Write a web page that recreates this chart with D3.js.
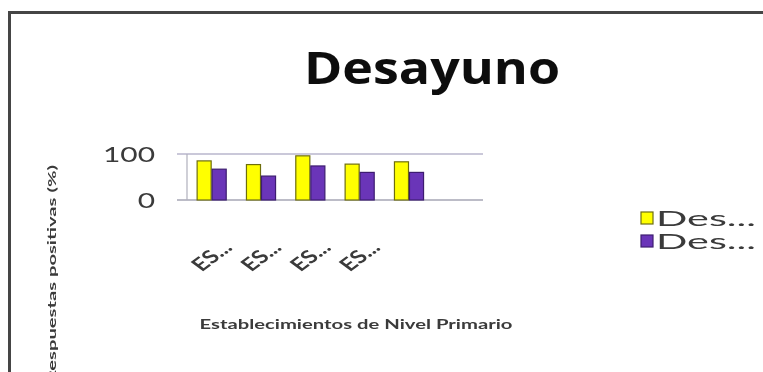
<!DOCTYPE html>
<html>
<head>
<meta charset="utf-8">
<script src="https://cdn.jsdelivr.net/npm/d3@7/dist/d3.min.js"></script>
<style>
  html, body { margin: 0; padding: 0; background: #fff; }
  svg { display: block; }
</style>
</head>
<body>
<svg id="chart" width="763" height="372"></svg>
<script>
// Chart data
const categories = ["c1", "c2", "c3", "c4", "c5", "c6"];
const tickLabels = ["ES...", "ES...", "ES...", "ES...", "", ""];
const seriesNames = ["Des...", "Des..."];
const serieA = [85, 77, 96, 78, 83, null];
const serieB = [67, 52, 74, 60, 60, null];
const yTicks = [0, 100];

const colors = ["#ffff00", "#6b34b8"];
const strokes = ["#6e6e10", "#3e1f70"];
const series = [serieA, serieB];

const svg = d3.select("#chart");
const W = 763, H = 372;

// soft rendering
const defs = svg.append("defs");
defs.append("filter").attr("id", "soft")
  .append("feGaussianBlur").attr("stdDeviation", 0.6);

const root = svg.append("g").attr("filter", "url(#soft)");
root.append("rect").attr("width", W).attr("height", H).attr("fill", "#fff");

// frame of the chart area
root.append("rect")
  .attr("x", 9.5).attr("y", 12.5)
  .attr("width", 820).attr("height", 420)
  .attr("fill", "none").attr("stroke", "#444").attr("stroke-width", 3);

const SX = 1.36; // horizontal text stretch
const FONT = "Lato, 'Open Sans', sans-serif";

// Scales
const x = d3.scaleBand().domain(categories).range([187, 483])
  .paddingInner(0.39).paddingOuter(0.195);
const xs = d3.scaleBand().domain([0, 1]).range([0, x.bandwidth()]);
const y = d3.scaleLinear().domain([0, 100]).range([200, 154]);

// gridlines (with outside tick marks)
root.append("g").selectAll("line").data(yTicks).join("line")
  .attr("x1", 177).attr("x2", 483)
  .attr("y1", d => y(d)).attr("y2", d => y(d))
  .attr("stroke", d => d === 0 ? "#a6a6b4" : "#b8b6cc").attr("stroke-width", 1.3);

// vertical axis line
root.append("line")
  .attr("x1", 187).attr("x2", 187)
  .attr("y1", y(100)).attr("y2", y(0))
  .attr("stroke", "#b0b0bc").attr("stroke-width", 1.2);

// Bars
series.forEach((vals, si) => {
  root.append("g").selectAll("rect")
    .data(categories.map((c, i) => ({ c, v: vals[i] })).filter(d => d.v != null))
    .join("rect")
    .attr("x", d => x(d.c) + xs(si) + 0.5)
    .attr("y", d => y(d.v))
    .attr("width", xs.bandwidth() - 1)
    .attr("height", d => y(0) - y(d.v))
    .attr("fill", colors[si])
    .attr("stroke", strokes[si]).attr("stroke-width", 1.2);
});

// y tick labels
root.append("g").selectAll("text").data(yTicks).join("text")
  .attr("transform", d => `translate(155,${y(d) + 8}) scale(${SX},1)`)
  .attr("text-anchor", "end")
  .attr("font-family", FONT)
  .attr("font-size", 22).attr("fill", "#3a3a3a")
  .text(d => d);

// x tick labels, rotated
root.append("g").selectAll("text")
  .data(categories.map((c, i) => ({ c, t: tickLabels[i] })).filter(d => d.t))
  .join("text")
  .attr("transform", d => `translate(${x(d.c) + x.bandwidth() / 2},256) scale(${SX},1) rotate(-45)`)
  .attr("text-anchor", "middle").attr("dy", "0.35em")
  .attr("font-family", FONT).attr("font-weight", "bold")
  .attr("font-size", 18).attr("fill", "#3a3a3a")
  .text(d => d.t);

// Title
root.append("text")
  .attr("transform", `translate(432,84) scale(1.18,1)`)
  .attr("text-anchor", "middle")
  .attr("font-family", "'Open Sans', Lato, sans-serif")
  .attr("font-weight", "bold").attr("font-size", 44).attr("fill", "#111")
  .text("Desayuno");

// axis titles
root.append("text")
  .attr("x", 356).attr("y", 329)
  .attr("text-anchor", "middle")
  .attr("font-family", FONT)
  .attr("font-weight", "bold").attr("font-size", 13).attr("fill", "#3a3a3a")
  .attr("textLength", 313).attr("lengthAdjust", "spacingAndGlyphs")
  .text("Establecimientos de Nivel Primario");

root.append("text")
  .attr("transform", `translate(56,274) rotate(-90)`)
  .attr("text-anchor", "middle")
  .attr("font-family", FONT)
  .attr("font-weight", "bold").attr("font-size", 12).attr("fill", "#3a3a3a")
  .attr("textLength", 218).attr("lengthAdjust", "spacingAndGlyphs")
  .text("Respuestas positivas (%)");

// Legend
const legend = root.append("g");
seriesNames.forEach((name, i) => {
  const ly = 218 + i * 23;
  legend.append("rect")
    .attr("x", 641).attr("y", ly - 6).attr("width", 12).attr("height", 12)
    .attr("fill", colors[i]).attr("stroke", strokes[i]).attr("stroke-width", 1.2);
  legend.append("text")
    .attr("x", 656).attr("y", ly + 8)
    .attr("font-family", FONT)
    .attr("font-size", 21).attr("fill", "#3a3a3a")
    .attr("textLength", 100).attr("lengthAdjust", "spacingAndGlyphs")
    .text(name);
});
</script>
</body>
</html>
